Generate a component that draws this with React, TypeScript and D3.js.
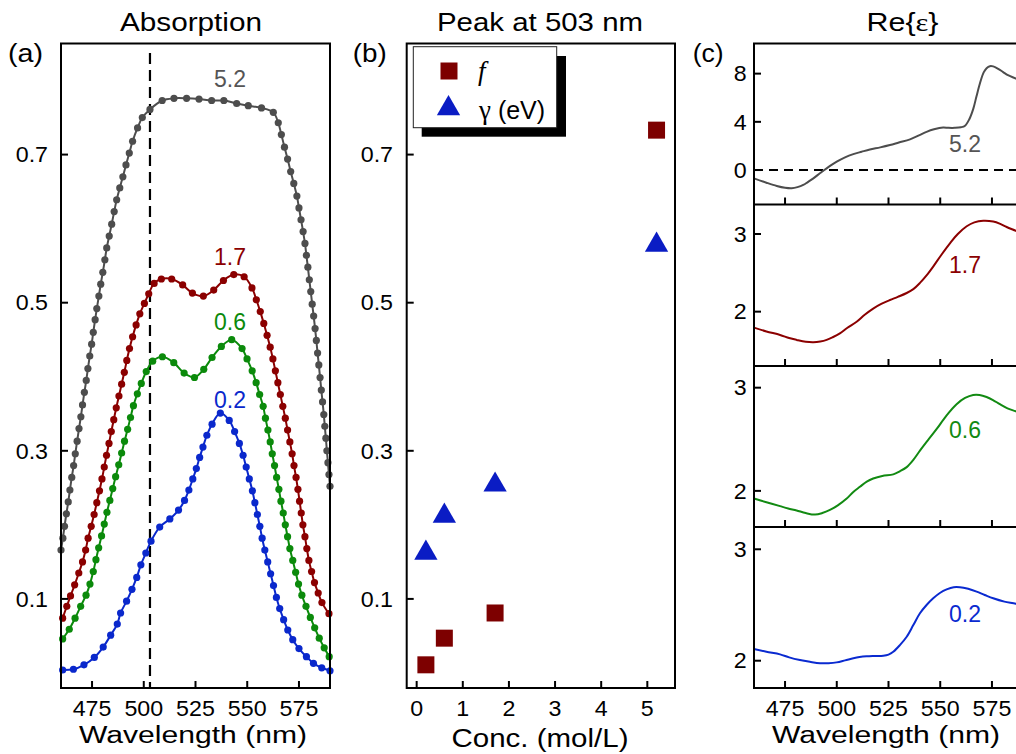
import React from 'react';
import * as d3 from 'd3';

const FONT = '"Liberation Sans", Arial, Helvetica, sans-serif';
const SERIF = '"Liberation Serif", "Times New Roman", serif';

// ---------- Panel (a): absorption spectra, [wavelength nm, absorption] ----------
const abs52: [number, number][] = [
  [460.0,0.166],[460.9,0.182],[461.7,0.198],[462.6,0.215],[463.5,0.231],[464.3,0.247],[465.2,0.264],[466.1,0.280],[466.9,0.296],[467.8,0.313],[468.7,0.330],[469.6,0.346],[470.4,0.362],[471.3,0.379],[472.2,0.395],[473.0,0.411],[473.9,0.428],[474.8,0.444],[475.6,0.460],[476.5,0.477],[477.3,0.492],[478.3,0.509],[479.2,0.525],[480.2,0.541],[481.2,0.558],[482.1,0.574],[483.3,0.590],[484.5,0.606],[485.7,0.623],[486.9,0.639],[488.4,0.655],[489.9,0.670],[491.4,0.686],[493.0,0.702],[494.6,0.718],[497.0,0.736],[499.3,0.750],[503.0,0.761],[508.9,0.773],[514.6,0.776],[520.7,0.776],[526.7,0.775],[532.8,0.773],[538.7,0.773],[544.9,0.769],[550.5,0.766],[556.9,0.763],[562.6,0.757],[565.0,0.743],[566.5,0.727],[568.0,0.710],[569.5,0.694],[571.0,0.677],[572.5,0.661],[574.0,0.644],[575.0,0.628],[576.0,0.612],[577.0,0.596],[577.9,0.580],[578.6,0.564],[579.3,0.548],[580.0,0.531],[580.7,0.515],[581.4,0.498],[582.1,0.482],[582.8,0.465],[583.4,0.449],[584.0,0.432],[584.6,0.416],[585.2,0.399],[585.8,0.382],[586.4,0.366],[587.0,0.349],[587.5,0.333],[588.0,0.317],[588.5,0.300],[589.0,0.284],[589.5,0.268],[590.0,0.252]
];
const abs17: [number, number][] = [
  [460.8,0.074],[462.8,0.090],[464.6,0.104],[466.6,0.119],[468.6,0.135],[470.4,0.150],[471.9,0.166],[473.1,0.182],[474.6,0.198],[476.0,0.214],[477.3,0.230],[478.6,0.246],[479.8,0.262],[480.9,0.278],[482.0,0.294],[483.2,0.310],[484.3,0.326],[485.5,0.342],[486.7,0.358],[488.0,0.374],[489.3,0.390],[490.6,0.406],[491.8,0.422],[493.1,0.438],[494.6,0.454],[496.3,0.470],[498.1,0.485],[500.3,0.499],[502.4,0.512],[505.0,0.526],[508.5,0.532],[513.5,0.532],[518.8,0.524],[523.5,0.513],[528.8,0.509],[533.8,0.517],[538.5,0.530],[543.5,0.538],[548.5,0.535],[552.3,0.520],[554.4,0.504],[556.3,0.488],[558.0,0.472],[559.6,0.456],[561.1,0.440],[562.4,0.424],[563.6,0.408],[564.8,0.392],[566.0,0.376],[567.2,0.360],[568.4,0.344],[569.5,0.328],[570.6,0.312],[571.7,0.296],[572.6,0.280],[573.6,0.264],[574.5,0.248],[575.3,0.232],[576.1,0.216],[576.9,0.200],[577.9,0.184],[578.8,0.168],[579.8,0.152],[581.1,0.137],[582.5,0.122],[584.3,0.108],[586.1,0.095],[589.5,0.080]
];
const abs06: [number, number][] = [
  [460.8,0.046],[464.0,0.059],[466.8,0.074],[469.5,0.090],[472.1,0.105],[474.0,0.120],[475.6,0.137],[476.9,0.153],[478.2,0.169],[479.6,0.185],[480.9,0.201],[482.2,0.217],[483.6,0.233],[485.0,0.249],[486.4,0.265],[487.9,0.281],[489.3,0.297],[490.7,0.313],[492.2,0.329],[493.6,0.345],[495.0,0.361],[496.9,0.377],[498.8,0.391],[501.2,0.407],[504.3,0.421],[509.0,0.427],[514.5,0.419],[519.5,0.405],[524.5,0.399],[529.0,0.410],[533.0,0.426],[537.5,0.441],[542.5,0.450],[547.5,0.438],[549.9,0.424],[552.4,0.408],[554.3,0.392],[556.0,0.376],[557.7,0.360],[558.8,0.344],[560.0,0.328],[561.1,0.312],[562.1,0.296],[563.2,0.280],[564.2,0.264],[565.3,0.248],[566.3,0.232],[567.4,0.216],[568.4,0.200],[569.5,0.184],[570.6,0.168],[572.0,0.152],[573.4,0.136],[574.8,0.120],[576.4,0.105],[578.4,0.090],[580.5,0.075],[582.6,0.061],[584.8,0.047],[587.2,0.034],[589.6,0.022]
];
const abs02: [number, number][] = [
  [460.8,0.004],[466.0,0.005],[471.1,0.011],[476.1,0.021],[480.4,0.035],[484.0,0.051],[487.2,0.066],[488.8,0.081],[491.7,0.097],[494.3,0.113],[496.6,0.129],[498.6,0.146],[501.0,0.162],[503.5,0.178],[507.7,0.197],[512.6,0.208],[516.8,0.220],[519.7,0.233],[521.8,0.247],[523.7,0.262],[525.4,0.276],[527.0,0.291],[528.6,0.305],[530.5,0.321],[533.0,0.336],[537.0,0.351],[541.3,0.341],[543.9,0.326],[546.2,0.310],[548.0,0.294],[549.5,0.278],[551.0,0.262],[552.5,0.246],[553.7,0.230],[554.9,0.214],[556.1,0.198],[557.2,0.182],[558.5,0.166],[559.9,0.150],[561.3,0.134],[562.7,0.118],[564.1,0.102],[565.7,0.087],[567.6,0.072],[569.6,0.058],[572.0,0.045],[575.0,0.033],[578.6,0.022],[582.0,0.013],[586.0,0.007],[590.0,0.003]
];
const seriesLabels = ['5.2', '1.7', '0.6', '0.2'];
const peakWavelength = 503;
const xTicksWl = [475, 500, 525, 550, 575];
const yTicksAbs = [0.1, 0.3, 0.5, 0.7];

// ---------- Panel (b): peak at 503 nm ----------
const concentrations = [0.2, 0.6, 1.7, 5.2];
const oscStrength = [0.011, 0.047, 0.081, 0.733];
const gammaEV = [0.162, 0.212, 0.254, 0.578];
const xTicksConc = [0, 1, 2, 3, 4, 5];

// ---------- Panel (c): Re{eps}, [wavelength nm, value] ----------
const eps52: [number, number][] = [
  [460,-0.69],[466,-1.05],[471,-1.32],[475,-1.47],[478.2,-1.51],[481,-1.42],[483.8,-1.24],[486,-1.0],[488.7,-0.69],[492,-0.25],[495.1,0.14],[500,0.69],[504,1.05],[508,1.32],[512,1.52],[516,1.71],[521,1.88],[525.7,2.07],[530,2.28],[535.4,2.54],[540,2.9],[543.4,3.17],[547,3.38],[551.4,3.53],[554,3.5],[557.1,3.5],[560,3.55],[562,3.68],[564,4.2],[566,5.1],[567.5,6.1],[569.2,7.2],[571,8.1],[572.4,8.45],[574,8.62],[575.6,8.6],[578,8.4],[580.4,8.13],[583,7.85],[586.6,7.59],[590,7.3]
];
const eps17: [number, number][] = [
  [460,1.794],[466,1.745],[472.6,1.70],[477,1.66],[480.6,1.636],[485,1.612],[488.7,1.606],[492,1.615],[495.1,1.636],[498,1.67],[501.5,1.72],[505,1.79],[509.6,1.87],[513.5,1.96],[517.6,2.04],[521.5,2.10],[525.7,2.15],[529.5,2.19],[533.8,2.24],[537,2.29],[540.2,2.37],[543.5,2.47],[546.6,2.58],[550.5,2.73],[554.7,2.88],[558.5,3.0],[562.8,3.10],[566.5,3.15],[570.8,3.17],[575.6,3.16],[579,3.13],[582.1,3.09],[586.6,3.04],[590,3.0]
];
const eps06: [number, number][] = [
  [460,1.926],[466,1.89],[472.6,1.852],[476.5,1.83],[480.6,1.81],[485,1.785],[489.5,1.77],[493,1.785],[496.7,1.815],[500.5,1.86],[504.8,1.926],[508,1.99],[511.2,2.04],[514.5,2.09],[517.6,2.12],[522,2.145],[527.3,2.16],[530.5,2.19],[533.8,2.23],[537,2.3],[540.2,2.39],[544,2.49],[548.3,2.60],[553,2.73],[557.9,2.84],[562,2.9],[565.9,2.93],[569,2.93],[572.4,2.91],[575.5,2.88],[578.8,2.84],[582.5,2.80],[586.6,2.77],[590,2.74]
];
const eps02: [number, number][] = [
  [460,2.105],[466,2.08],[472.6,2.057],[477,2.03],[482.2,2.006],[487,1.99],[491.9,1.977],[496,1.978],[499.9,1.985],[504,2.003],[508,2.022],[511,2.033],[514.4,2.04],[518,2.043],[522.5,2.045],[525,2.055],[527.3,2.08],[530.5,2.14],[533.8,2.215],[537,2.32],[540.2,2.426],[543.4,2.5],[546.6,2.56],[550,2.61],[553.1,2.64],[556.5,2.66],[559.5,2.66],[563.5,2.645],[567.6,2.62],[571.5,2.59],[575.6,2.56],[581,2.53],[586.6,2.51],[590,2.49]
];
const yTicksEps52 = [0, 4, 8];
const yTicksEpsLow = [2, 3];

// ---------- styling ----------
const colA = ['#4d4d4d', '#8b0000', '#0b8a0b', '#0a28cc'];
const colC = ['#4d4d4d', '#8b0000', '#128a12', '#0a2ad0'];
const squareColor = '#7d0000';
const triColor = '#0a1cc4';

const W = 1016, H = 754;
const TOP = 43.5, BOT = 688;
const A = { l: 61, r: 330 };
const B = { l: 406.7, r: 675 };
const C = { l: 754, r: 1023 };
const subBounds = [43.5, 204.5, 366, 527, 688];
const subDomains: [number, number][] = [[-2.86, 10.5], [1.30, 3.38], [1.65, 3.21], [1.755, 3.2]];

// approximate rendered width of a numeric label, widened slightly like the reference
const numWidth = (s: string, fs: number) =>
  s.split('').reduce((w, ch) => w + (ch === '.' ? 0.278 : ch === '-' ? 0.333 : 0.556), 0) * fs * 1.08;

const Num = (props: { x: number; y: number; s: string; anchor: 'middle' | 'end'; fs: number; dy?: string }) => (
  <text x={props.x} y={props.y} dy={props.dy} fontSize={props.fs} textAnchor={props.anchor}
    textLength={numWidth(props.s, props.fs)} lengthAdjust="spacingAndGlyphs">{props.s}</text>
);

export default function App() {
  const xA = d3.scaleLinear().domain([460, 590]).range([A.l, A.r]);
  const yA = d3.scaleLinear().domain([-0.0203, 0.85]).range([BOT, TOP]);
  const xB = d3.scaleLinear().domain([-0.216, 5.6]).range([B.l, B.r]);
  const yB = yA;
  const xC = d3.scaleLinear().domain([460, 590]).range([C.l, C.r]);
  const yC = subDomains.map((d, i) => d3.scaleLinear().domain(d).range([subBounds[i + 1], subBounds[i]]));

  const absSeries = [abs52, abs17, abs06, abs02];
  const epsSeries = [eps52, eps17, eps06, eps02];

  const lineA = d3.line<[number, number]>().x(d => xA(d[0])).y(d => yA(d[1])).curve(d3.curveCatmullRom.alpha(0.5));
  const sq = d3.symbol().type(d3.symbolSquare).size(17 * 17)() as string;
  const tri = d3.symbol().type(d3.symbolTriangle).size(235)() as string;

  const tickFont = 21.5;
  const tickBase = 716;
  const labelPosA = [87.3, 265, 330, 408.3];
  const labelPosC = [151.7, 272.7, 437.7, 621.7];

  return (
    <svg width={W} height={H} style={{ position: 'absolute', left: 0, top: 0, background: '#fff' }} fontFamily={FONT}>
      <rect x={0} y={0} width={W} height={H} fill="#fff" />
      {/* titles */}
      <text x={191} y={31} fontSize={26} textAnchor="middle" textLength={142} lengthAdjust="spacingAndGlyphs">Absorption</text>
      <text x={540} y={31} fontSize={26} textAnchor="middle" textLength={206} lengthAdjust="spacingAndGlyphs">Peak at 503 nm</text>
      <text x={902.5} y={31} fontSize={26} textAnchor="middle" textLength={72} lengthAdjust="spacingAndGlyphs">
        Re{'{'}<tspan fontFamily={SERIF}>ε</tspan>{'}'}
      </text>
      {/* panel letters */}
      <text x={8} y={62} fontSize={25} textLength={35} lengthAdjust="spacingAndGlyphs">(a)</text>
      <text x={352.7} y={62} fontSize={25} textLength={34} lengthAdjust="spacingAndGlyphs">(b)</text>
      <text x={692.7} y={62} fontSize={25} textLength={31} lengthAdjust="spacingAndGlyphs">(c)</text>

      {/* ===== Panel (a) ===== */}
      <line x1={xA(peakWavelength)} x2={xA(peakWavelength)} y1={53} y2={BOT} stroke="#000" strokeWidth={2.2} strokeDasharray="11,6" />
      {absSeries.map((s, i) => (
        <g key={'a' + i}>
          <path d={lineA(s) as string} fill="none" stroke={colA[i]} strokeWidth={2} />
          {s.map((p, j) => (
            <circle key={j} cx={xA(p[0])} cy={yA(p[1])} r={3.6} fill={colA[i]} />
          ))}
          <text x={230} y={labelPosA[i]} fontSize={23} textAnchor="middle" fill={i === 0 ? '#555' : colA[i]}>{seriesLabels[i]}</text>
        </g>
      ))}
      <rect x={A.l} y={TOP} width={A.r - A.l} height={BOT - TOP} fill="none" stroke="#000" strokeWidth={2} />
      {yTicksAbs.map(t => (
        <g key={'ya' + t}>
          <line x1={A.l} x2={A.l + 7} y1={yA(t)} y2={yA(t)} stroke="#000" strokeWidth={2} />
          <Num x={48} y={yA(t)} dy="0.36em" fs={tickFont} anchor="end" s={t.toFixed(1)} />
        </g>
      ))}
      {xTicksWl.map(t => (
        <g key={'xa' + t}>
          <line x1={xA(t)} x2={xA(t)} y1={BOT} y2={BOT - 7} stroke="#000" strokeWidth={2} />
          <Num x={xA(t)} y={tickBase} fs={tickFont} anchor="middle" s={String(t)} />
        </g>
      ))}
      <text x={193} y={743} fontSize={23} textAnchor="middle" textLength={228} lengthAdjust="spacingAndGlyphs">Wavelength (nm)</text>

      {/* ===== Panel (b) ===== */}
      {concentrations.map((c, i) => (
        <path key={'t' + i} d={tri} transform={`translate(${xB(c)},${yB(gammaEV[i])})`} fill={triColor} />
      ))}
      {concentrations.map((c, i) => (
        <path key={'s' + i} d={sq} transform={`translate(${xB(c)},${yB(oscStrength[i])})`} fill={squareColor} />
      ))}
      <rect x={B.l} y={TOP} width={B.r - B.l} height={BOT - TOP} fill="none" stroke="#000" strokeWidth={2} />
      {yTicksAbs.map(t => (
        <g key={'yb' + t}>
          <line x1={B.l} x2={B.l + 7} y1={yB(t)} y2={yB(t)} stroke="#000" strokeWidth={2} />
          <Num x={393} y={yB(t)} dy="0.36em" fs={tickFont} anchor="end" s={t.toFixed(1)} />
        </g>
      ))}
      {xTicksConc.map(t => (
        <g key={'xb' + t}>
          <line x1={xB(t)} x2={xB(t)} y1={BOT} y2={BOT - 7} stroke="#000" strokeWidth={2} />
          <Num x={xB(t)} y={tickBase} fs={tickFont} anchor="middle" s={String(t)} />
        </g>
      ))}
      <text x={540} y={746.5} fontSize={25} textAnchor="middle" textLength={177} lengthAdjust="spacingAndGlyphs">Conc. (mol/L)</text>
      {/* legend */}
      <rect x={421.7} y={56} width={144.3} height={80.7} fill="#000" />
      <rect x={413.3} y={46.7} width={143.4} height={81} fill="#fff" stroke="#222" strokeWidth={1} />
      <path d={sq} transform="translate(449,71)" fill={squareColor} />
      <path d={tri} transform="translate(448.5,108.5)" fill={triColor} />
      <text x={478} y={80} fontSize={27} fontFamily={SERIF} fontStyle="italic">f</text>
      <text x={479} y={118.5} fontSize={25}>
        <tspan fontFamily={SERIF} fontSize={27}>γ</tspan> (eV)
      </text>

      {/* ===== Panel (c) ===== */}
      <line x1={C.l} x2={C.r} y1={yC[0](0)} y2={yC[0](0)} stroke="#000" strokeWidth={2} strokeDasharray="9,6" />
      {epsSeries.map((s, i) => {
        const ln = d3.line<[number, number]>().x(d => xC(d[0])).y(d => yC[i](d[1])).curve(d3.curveCatmullRom.alpha(0.5));
        return (
          <g key={'c' + i}>
            <path d={ln(s) as string} fill="none" stroke={colC[i]} strokeWidth={2} />
            <text x={965} y={labelPosC[i]} fontSize={23} textAnchor="middle" fill={i === 0 ? '#555' : colC[i]}>{seriesLabels[i]}</text>
          </g>
        );
      })}
      <rect x={C.l} y={TOP} width={C.r - C.l} height={BOT - TOP} fill="none" stroke="#000" strokeWidth={2} />
      {subBounds.slice(1, 4).map((b, i) => (
        <line key={'div' + i} x1={C.l} x2={C.r} y1={b} y2={b} stroke="#000" strokeWidth={2} />
      ))}
      {yC.map((sc, i) => (
        <g key={'sub' + i}>
          {(i === 0 ? yTicksEps52 : yTicksEpsLow).map(t => (
            <g key={t}>
              <line x1={C.l} x2={C.l + 7} y1={sc(t)} y2={sc(t)} stroke="#000" strokeWidth={2} />
              <Num x={746.7} y={sc(t)} dy="0.36em" fs={tickFont} anchor="end" s={String(t)} />
            </g>
          ))}
          {xTicksWl.map(t => (
            <line key={'xt' + t} x1={xC(t)} x2={xC(t)} y1={subBounds[i + 1]} y2={subBounds[i + 1] - 7} stroke="#000" strokeWidth={2} />
          ))}
        </g>
      ))}
      {xTicksWl.map(t => (
        <Num key={'xcl' + t} x={xC(t)} y={tickBase} fs={tickFont} anchor="middle" s={String(t)} />
      ))}
      <text x={886} y={743} fontSize={23} textAnchor="middle" textLength={228} lengthAdjust="spacingAndGlyphs">Wavelength (nm)</text>
    </svg>
  );
}
